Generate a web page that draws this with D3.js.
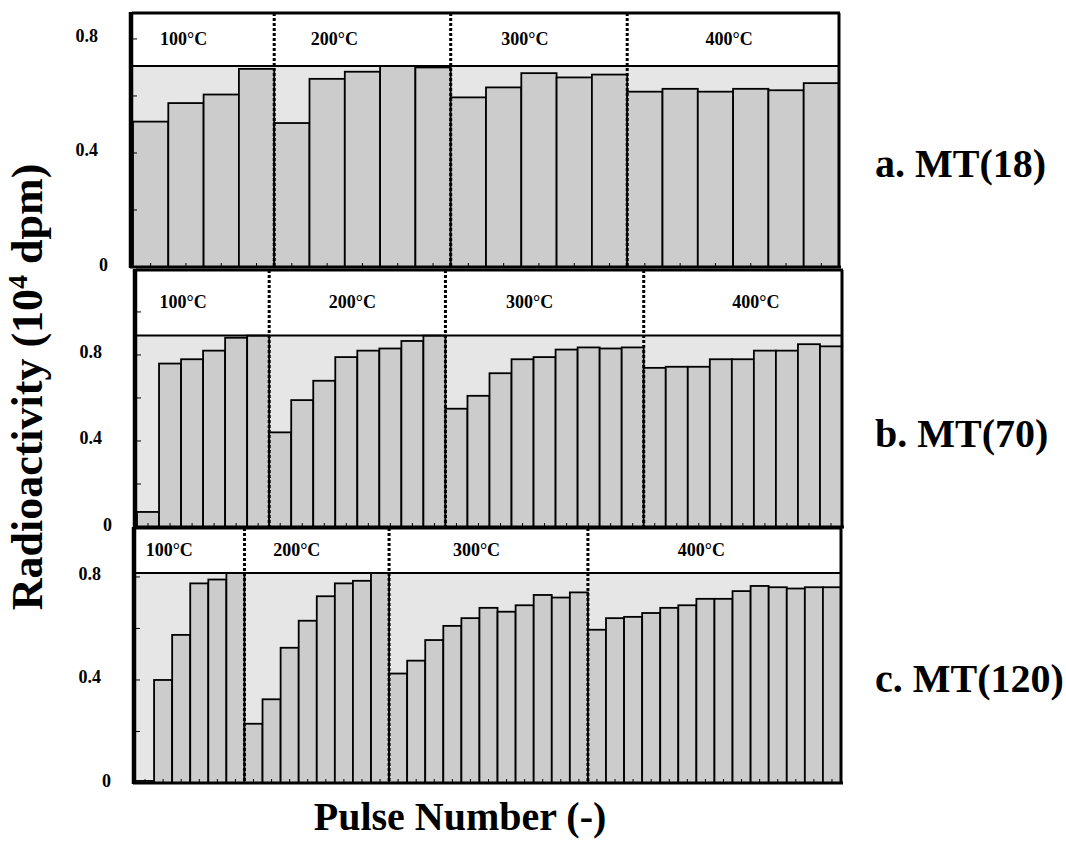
<!DOCTYPE html>
<html>
<head>
<meta charset="utf-8">
<script src="https://cdn.jsdelivr.net/npm/d3@7"></script>
<style>
  body { margin: 0; background: #ffffff; }
  text { font-family: "Liberation Serif", "Times New Roman", serif; font-weight: bold; fill: #000; }
</style>
</head>
<body>
<div id="canvas"></div>
<script>
// Data (radioactivity, 10^4 dpm), one array per temperature step
var temps = ["100°C", "200°C", "300°C", "400°C"];
var panelNames = ["a. MT(18)", "b. MT(70)", "c. MT(120)"];
var yTickLabels = [0, 0.4, 0.8];

var mt18 = [
  [0.51, 0.575, 0.605, 0.695],
  [0.505, 0.66, 0.685, 0.705, 0.70],
  [0.595, 0.63, 0.68, 0.665, 0.675],
  [0.615, 0.625, 0.615, 0.625, 0.62, 0.645]
];
var mt70 = [
  [0.07, 0.76, 0.78, 0.82, 0.88, 0.89],
  [0.44, 0.59, 0.68, 0.79, 0.82, 0.83, 0.865, 0.89],
  [0.55, 0.61, 0.715, 0.78, 0.79, 0.825, 0.835, 0.83, 0.835],
  [0.74, 0.745, 0.745, 0.78, 0.78, 0.82, 0.82, 0.85, 0.84]
];
var mt120 = [
  [0.008, 0.40, 0.575, 0.775, 0.79, 0.815],
  [0.23, 0.325, 0.525, 0.63, 0.725, 0.775, 0.785, 0.815],
  [0.425, 0.475, 0.555, 0.61, 0.64, 0.68, 0.665, 0.69, 0.73, 0.72, 0.74],
  [0.595, 0.64, 0.645, 0.66, 0.68, 0.69, 0.715, 0.715, 0.745, 0.765, 0.76, 0.755, 0.76, 0.76]
];

// Panel layout (pixels)
var panels = [
  { data: mt18,  x0: 133, x1: 839, top: 13,  bottom: 267, yMax: 0.891, shift: [-20, -28, -14, -4],  nameY: 177 },
  { data: mt70,  x0: 137, x1: 842, top: 270, bottom: 527, yMax: 1.195, shift: [-20, -5, -15, 13],   nameY: 447 },
  { data: mt120, x0: 136, x1: 841, top: 528, bottom: 783, yMax: 0.99,  shift: [-21, -20, -12, -13], nameY: 692 }
];

var canvas_w = 1066;
var canvas_h = 846;

var svg = d3.select("#canvas").append("svg")
  .attr("width", canvas_w)
  .attr("height", canvas_h);

panels.forEach(function(p, pi) {
  var g = svg.append("g");

  // flatten bars, remember group boundaries
  var bars = [];
  var bounds = [];
  p.data.forEach(function(vals, gi) {
    bounds.push(bars.length);
    vals.forEach(function(v) { bars.push({ group: gi, value: v }); });
  });
  bounds.push(bars.length);

  var x = d3.scaleBand()
    .domain(d3.range(bars.length))
    .range([p.x0, p.x1])
    .padding(0);
  var y = d3.scaleLinear()
    .domain([0, p.yMax])
    .range([p.bottom, p.top]);

  var vmax = d3.max(bars, function(d) { return d.value; });
  var hdr = y(vmax);
  var bw = x.bandwidth();
  var edge = function(i) { return p.x0 + i * bw; };

  // light grey plot area below header
  g.append("rect")
    .attr("x", p.x0).attr("y", hdr)
    .attr("width", p.x1 - p.x0).attr("height", p.bottom - hdr)
    .style("fill", "#e6e6e6");

  // bars
  g.selectAll(".bar").data(bars).enter().append("rect")
    .attr("x", function(d, i) { return x(i); })
    .attr("y", function(d) { return y(d.value); })
    .attr("width", bw)
    .attr("height", function(d) { return p.bottom - y(d.value); })
    .style("fill", "#cccccc")
    .style("stroke", "#000")
    .style("stroke-width", 1.8);

  // small ticks at bar centres along the bottom
  g.selectAll(".xt").data(bars).enter().append("line")
    .attr("x1", function(d, i) { return x(i) + bw / 2; })
    .attr("x2", function(d, i) { return x(i) + bw / 2; })
    .attr("y1", p.bottom).attr("y2", p.bottom - 4)
    .style("stroke", "#000").style("stroke-width", 1);

  // header line
  g.append("line")
    .attr("x1", p.x0).attr("x2", p.x1)
    .attr("y1", hdr).attr("y2", hdr)
    .style("stroke", "#000").style("stroke-width", 2);

  // y minor ticks
  var minor = d3.range(0.2, p.yMax, 0.2);
  g.selectAll(".yt").data(minor).enter().append("line")
    .attr("x1", p.x0).attr("x2", p.x0 + 4)
    .attr("y1", function(d) { return y(d); })
    .attr("y2", function(d) { return y(d); })
    .style("stroke", "#000").style("stroke-width", 1);

  // dashed separators between temperature steps
  bounds.slice(1, -1).forEach(function(b) {
    g.append("line")
      .attr("x1", edge(b)).attr("x2", edge(b))
      .attr("y1", p.top).attr("y2", p.bottom)
      .style("stroke", "#000").style("stroke-width", 3)
      .style("stroke-dasharray", "3,2");
  });

  // temperature labels
  temps.forEach(function(t, gi) {
    var cx = (edge(bounds[gi]) + edge(bounds[gi + 1])) / 2 + p.shift[gi];
    g.append("text")
      .attr("x", cx)
      .attr("y", (p.top + hdr) / 2 + 5)
      .attr("text-anchor", "middle")
      .style("font-size", "18px")
      .text(t);
  });

  // frame
  g.append("line").attr("x1", p.x0 - 1).attr("x2", p.x1 + 1)
    .attr("y1", p.top).attr("y2", p.top)
    .style("stroke", "#000").style("stroke-width", 3);
  g.append("line").attr("x1", p.x0 - 3).attr("x2", p.x1 + 2)
    .attr("y1", p.bottom).attr("y2", p.bottom)
    .style("stroke", "#000").style("stroke-width", 3);
  g.append("line").attr("x1", p.x1).attr("x2", p.x1)
    .attr("y1", p.top).attr("y2", p.bottom)
    .style("stroke", "#000").style("stroke-width", 3);
  g.append("line").attr("x1", p.x0 - 2).attr("x2", p.x0 - 2)
    .attr("y1", p.top - 1).attr("y2", p.bottom + 1)
    .style("stroke", "#000").style("stroke-width", 4.5);

  // y tick labels
  g.selectAll(".yl").data(yTickLabels).enter().append("text")
    .attr("x", function(d) { return d === 0 ? p.x0 - 25 : p.x0 - 35; })
    .attr("y", function(d) { return y(d) + (d === 0 ? -2 : -3); })
    .attr("text-anchor", "end")
    .attr("dominant-baseline", "central")
    .style("font-size", "18px")
    .text(function(d) { return d === 0 ? "0" : d3.format(".1f")(d); });

  // panel name
  svg.append("text")
    .attr("x", 875)
    .attr("y", p.nameY)
    .style("font-size", "40px")
    .text(panelNames[pi]);
});

// axis titles
var yTitle = svg.append("text")
  .attr("transform", "translate(42,387) rotate(-90)")
  .attr("text-anchor", "middle")
  .style("font-size", "44px");
yTitle.append("tspan").text("Radioactivity (10");
yTitle.append("tspan").attr("baseline-shift", "super").style("font-size", "28px").text("4");
yTitle.append("tspan").text(" dpm)");

svg.append("text")
  .attr("x", 460)
  .attr("y", 830)
  .attr("text-anchor", "middle")
  .style("font-size", "40px")
  .text("Pulse Number (-)");
</script>
</body>
</html>
